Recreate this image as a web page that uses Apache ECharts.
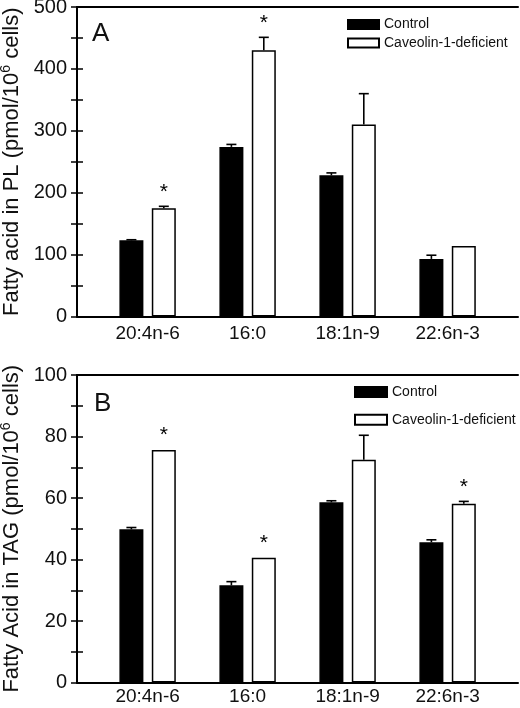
<!DOCTYPE html>
<html>
<head>
<meta charset="utf-8">
<script src="https://cdn.jsdelivr.net/npm/echarts@6/dist/echarts.min.js"></script>
<style>
  html, body { margin: 0; padding: 0; background: #fff; }
  #chart { width: 520px; height: 708px; }
</style>
</head>
<body>
<div id="chart"></div>
<script>
// ---- Data ----
const categories = ['20:4n-6', '16:0', '18:1n-9', '22:6n-3'];
const seriesNames = ['Control', 'Caveolin-1-deficient'];

// Panel A: Fatty acid in PL (pmol/10^6 cells)
const plControl = [123, 274, 228, 93];
const plControlErr = [1, 4, 4, 6];
const plCaveolin = [175, 430, 310, 114];
const plCaveolinErr = [3, 21, 50, 0];
const plSignificant = [1, 1, 0, 0];
const plTicks = [0, 500, 100];

// Panel B: Fatty Acid in TAG (pmol/10^6 cells)
const tagControl = [49.8, 31.6, 58.6, 45.6];
const tagControlErr = [0.6, 1.2, 0.5, 0.8];
const tagCaveolin = [75.6, 40.6, 72.4, 58.1];
const tagCaveolinErr = [0, 0, 8, 0.8];
const tagSignificant = [1, 1, 0, 1];
const tagTicks = [0, 100, 20];

// ---- Style constants ----
const FONT = '"Liberation Sans", Arial, sans-serif';
const BAR_W = 24;
const GAP = 8.4;
const OFF = (BAR_W + GAP) / 2;
const TXT = '#111';

function makeErrData(ctrl, ctrlErr, cav, cavErr, sig) {
  return categories.map((c, i) => [i, ctrl[i], ctrlErr[i], cav[i], cavErr[i], sig[i]]);
}

function renderErr(params, api) {
  const i = api.value(0);
  const cx = api.coord([i, 0])[0];
  const children = [];
  const items = [
    [api.value(1), api.value(2), -OFF, false],
    [api.value(3), api.value(4), OFF, api.value(5) === 1]
  ];
  items.forEach(([v, e, off, sig]) => {
    const x = cx + off;
    const yTop = api.coord([i, v + e])[1];
    const yBar = api.coord([i, v])[1];
    if (e > 0) {
      children.push({ type: 'line', shape: { x1: x, y1: yBar, x2: x, y2: yTop },
        style: { stroke: '#000', lineWidth: 1.6 } });
      children.push({ type: 'line', shape: { x1: x - 5, y1: yTop, x2: x + 5, y2: yTop },
        style: { stroke: '#000', lineWidth: 1.6 } });
    }
    if (sig) {
      children.push({ type: 'text', x: x, y: yTop - 4,
        style: { text: '*', fill: '#000', font: '21px ' + FONT, align: 'center', verticalAlign: 'bottom' } });
    }
  });
  return { type: 'group', children: children };
}

function outerY(gridIndex, ticks, name, position, nameGap) {
  const isLeft = position === 'left';
  return {
    gridIndex: gridIndex, type: 'value', position: position, z: 5,
    min: ticks[0], max: ticks[1], interval: ticks[2],
    axisLine: { show: true, lineStyle: { color: '#000', width: 2 } },
    axisTick: { show: true, inside: true, length: 6, lineStyle: { color: '#000', width: 1.5 } },
    minorTick: { show: true, splitNumber: 2, length: 6, lineStyle: { color: '#000', width: 1.5 } },
    splitLine: { show: false },
    minorSplitLine: { show: false },
    axisLabel: { show: isLeft, fontSize: 20, fontFamily: FONT, color: TXT, margin: 10 },
    name: isLeft ? name : '',
    nameLocation: 'middle',
    nameGap: nameGap,
    nameTextStyle: {
      fontSize: 22, fontFamily: FONT, color: TXT,
      rich: {
        n: { fontSize: 22, fontFamily: FONT, color: TXT, lineHeight: 26 },
        sup: { fontSize: 14, fontFamily: FONT, color: TXT, lineHeight: 12, verticalAlign: 'top' }
      }
    }
  };
}

function frameX(gridIndex, position) {
  return {
    gridIndex: gridIndex, type: 'value', position: position, min: 0, max: 1, z: 5,
    axisLine: { show: true, onZero: false, lineStyle: { color: '#000', width: 2 } },
    axisTick: { show: false }, axisLabel: { show: false }, splitLine: { show: false }
  };
}

function innerY(gridIndex, ticks) {
  return { gridIndex: gridIndex, type: 'value', min: ticks[0], max: ticks[1], interval: ticks[2], show: false };
}

function catX(gridIndex, margin) {
  return {
    gridIndex: gridIndex, type: 'category', data: categories,
    axisLine: { show: false }, axisTick: { show: false },
    axisLabel: { fontSize: 19, fontFamily: FONT, color: TXT, margin: margin, interval: 0 }
  };
}

function barSeries(name, xi, yi, data, color) {
  return {
    name: name, type: 'bar', xAxisIndex: xi, yAxisIndex: yi, data: data,
    barWidth: BAR_W, barGap: (GAP / BAR_W * 100) + '%',
    itemStyle: { color: color, borderColor: '#000', borderWidth: 1.5 },
    emphasis: { disabled: true },
    animation: false
  };
}

function legendAt(left, top, iconW, iconH, gap) {
  return {
    left: left, top: top, orient: 'vertical', padding: 0,
    itemWidth: iconW, itemHeight: iconH, itemGap: gap,
    icon: 'rect',
    data: seriesNames,
    selectedMode: false,
    textStyle: { fontSize: 14, fontFamily: FONT, color: TXT, lineHeight: 14 }
  };
}

const gridBase = { outerBoundsMode: 'none', containLabel: false, show: false };

const option = {
  animation: false,
  backgroundColor: '#fff',
  grid: [
    Object.assign({ left: 77, top: 7, width: 441, height: 309.5 }, gridBase),
    Object.assign({ left: 97.6, top: 7, width: 400, height: 309.5 }, gridBase),
    Object.assign({ left: 77, top: 375, width: 441, height: 307.5 }, gridBase),
    Object.assign({ left: 97.6, top: 375, width: 400, height: 307.5 }, gridBase)
  ],
  xAxis: [
    frameX(0, 'bottom'),
    catX(1, 8),
    frameX(2, 'bottom'),
    catX(3, 5),
    frameX(0, 'top'),
    frameX(2, 'top')
  ],
  yAxis: [
    outerY(0, plTicks, '{n|Fatty acid in PL (pmol/10}{sup|6}{n| cells)}', 'left', 44),
    outerY(0, plTicks, '', 'right', 0),
    innerY(1, plTicks),
    outerY(2, tagTicks, '{n|Fatty Acid in TAG (pmol/10}{sup|6}{n| cells)}', 'left', 44),
    outerY(2, tagTicks, '', 'right', 0),
    innerY(3, tagTicks)
  ],
  legend: [
    legendAt(347, 17.5, 31, 9, 4.5),
    legendAt(354, 385, 32, 10, 13.7)
  ],
  series: [
    barSeries(seriesNames[0], 1, 2, plControl, '#000'),
    barSeries(seriesNames[1], 1, 2, plCaveolin, '#fff'),
    {
      name: 'errA', type: 'custom', xAxisIndex: 1, yAxisIndex: 2,
      data: makeErrData(plControl, plControlErr, plCaveolin, plCaveolinErr, plSignificant),
      renderItem: renderErr, silent: true, z: 5
    },
    barSeries(seriesNames[0], 3, 5, tagControl, '#000'),
    barSeries(seriesNames[1], 3, 5, tagCaveolin, '#fff'),
    {
      name: 'errB', type: 'custom', xAxisIndex: 3, yAxisIndex: 5,
      data: makeErrData(tagControl, tagControlErr, tagCaveolin, tagCaveolinErr, tagSignificant),
      renderItem: renderErr, silent: true, z: 5
    }
  ],
  graphic: [
    { type: 'text', left: 92, top: 21, style: { text: 'A', font: '26px ' + FONT, fill: TXT } },
    { type: 'text', left: 94, top: 391, style: { text: 'B', font: '26px ' + FONT, fill: TXT } }
  ]
};

const chart = echarts.init(document.getElementById('chart'), null, { renderer: 'canvas' });
chart.setOption(option);
</script>
</body>
</html>
